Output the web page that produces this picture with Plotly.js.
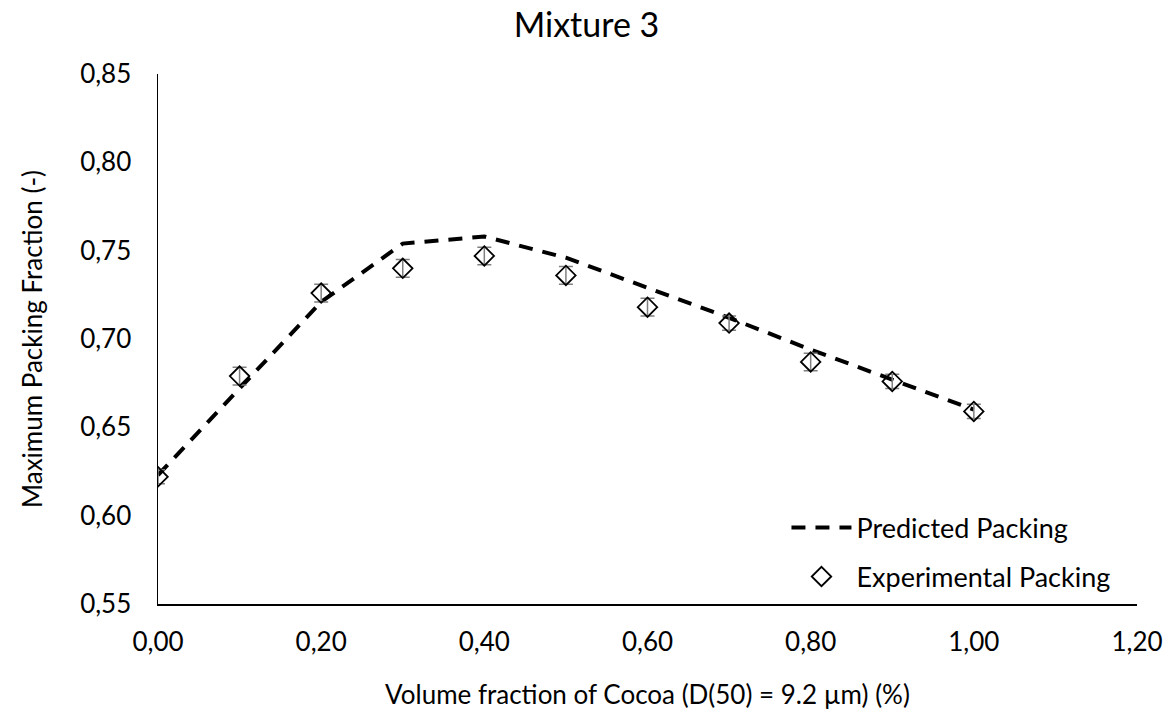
<!DOCTYPE html>
<html>
<head>
<meta charset="utf-8">
<script src="https://cdn.plot.ly/plotly-3.0.1.min.js"></script>
<style>html,body{margin:0;padding:0;background:#fff;}#chart{width:1173px;height:722px;}</style>
</head>
<body>
<div id="chart"></div>
<script>
const xValues = [0.0, 0.1, 0.2, 0.3, 0.4, 0.5, 0.6, 0.7, 0.8, 0.9, 1.0];
const predicted = [0.623, 0.672, 0.721, 0.754, 0.758, 0.746, 0.729, 0.712, 0.694, 0.677, 0.660];
const experimental = [0.622, 0.679, 0.726, 0.740, 0.747, 0.736, 0.718, 0.709, 0.687, 0.676, 0.659];
const expError = [0.004, 0.005, 0.005, 0.005, 0.005, 0.005, 0.005, 0.004, 0.005, 0.004, 0.004];
const xTickVals = [0, 0.2, 0.4, 0.6, 0.8, 1.0, 1.2];
const xTickText = ['0,00', '0,20', '0,40', '0,60', '0,80', '1,00', '1,20'];
const yTickVals = [0.55, 0.60, 0.65, 0.70, 0.75, 0.80, 0.85];
const yTickText = ['0,55', '0,60', '0,65', '0,70', '0,75', '0,80', '0,85'];

const FONT = 'Lato, "Open Sans", sans-serif';

const traces = [
  {
    x: xValues, y: predicted, name: 'Predicted Packing', type: 'scatter', mode: 'lines',
    line: {color: '#000000', width: 4, dash: '14px,10px'},
    legendgroup: 'a'
  },
  {
    x: xValues, y: experimental, name: 'Experimental Packing', type: 'scatter', mode: 'markers',
    marker: {symbol: 'diamond-open', size: 15, color: '#000000', line: {width: 1.8, color: '#000000'}},
    error_y: {type: 'data', array: expError, visible: true, color: '#808080', thickness: 1.5, width: 7},
    legendgroup: 'b'
  }
];

const layout = {
  width: 1173, height: 722,
  margin: {l: 158, r: 36, t: 74, b: 118},
  paper_bgcolor: '#ffffff', plot_bgcolor: '#ffffff',
  font: {family: FONT, color: '#000000', size: 26},
  showlegend: true,
  title: {text: 'Mixture 3', font: {family: FONT, size: 34, color: '#000000'}, x: 0.5, xref: 'container', xanchor: 'center', y: 0.965, yref: 'container', yanchor: 'middle'},
  xaxis: {
    range: [0, 1.2], tickvals: xTickVals, ticktext: xTickText,
    showgrid: false, zeroline: false, showline: true, linecolor: '#000000', linewidth: 1.5,
    ticks: '', ticklabelstandoff: 14, tickfont: {family: FONT, size: 26, color: '#000000'},
    automargin: false,
    title: {text: 'Volume fraction of Cocoa (D(50) = 9.2 µm) (%)', font: {family: FONT, size: 26, color: '#000000'}, standoff: 30}
  },
  yaxis: {
    range: [0.55, 0.85], tickvals: yTickVals, ticktext: yTickText,
    showgrid: false, zeroline: false, showline: true, linecolor: '#000000', linewidth: 1.5,
    ticks: '', ticklabelstandoff: 20, tickfont: {family: FONT, size: 26, color: '#000000'},
    automargin: false,
    title: {text: 'Maximum Packing Fraction (-)', font: {family: FONT, size: 26, color: '#000000'}, standoff: 30}
  },
  legend: {
    x: 0.978, y: 0.005, xanchor: 'right', yanchor: 'bottom',
    bgcolor: 'rgba(255,255,255,0)', font: {family: FONT, size: 27, color: '#000000'},
    tracegroupgap: 11, itemwidth: 60
  }
};

Plotly.newPlot('chart', traces, layout, {displayModeBar: false, staticPlot: true});
</script>
</body>
</html>
